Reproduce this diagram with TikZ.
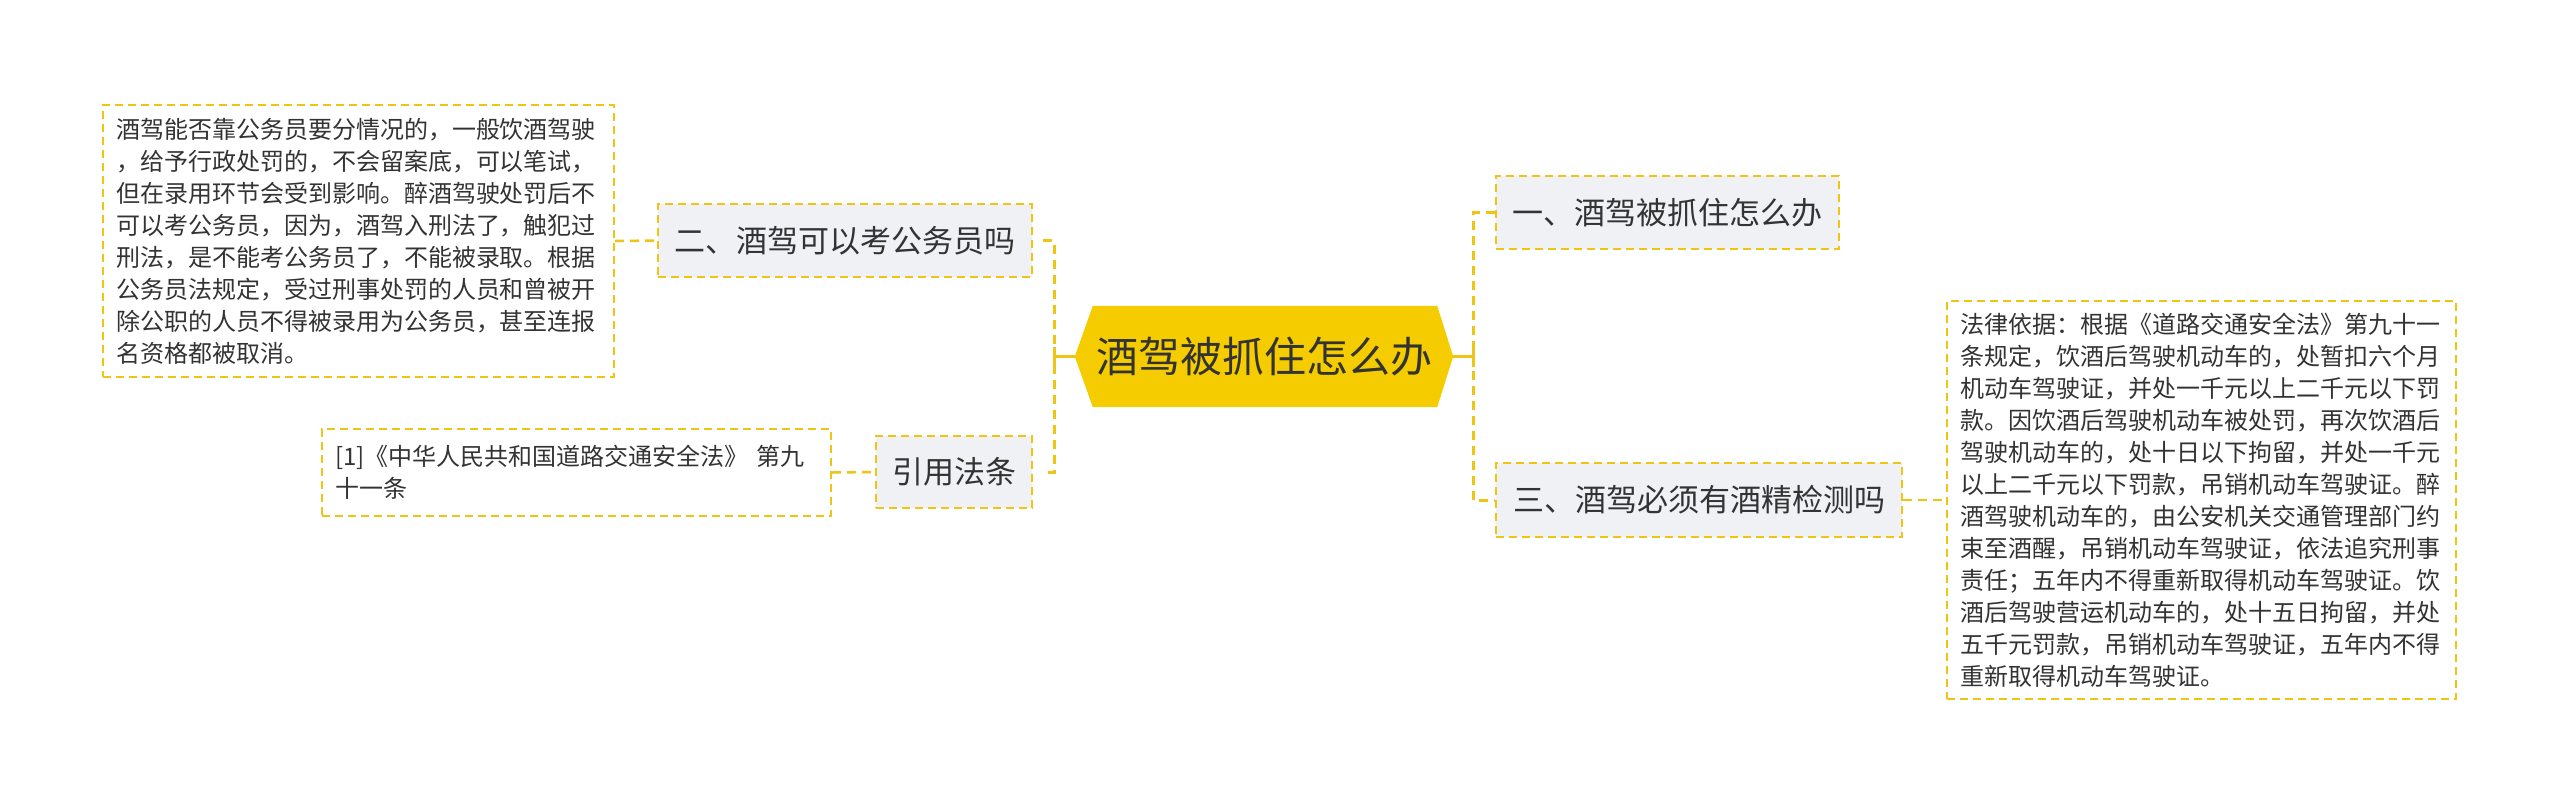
\documentclass[tikz,border=0pt]{standalone}
\usepackage{fontspec}
\setmainfont{Noto Sans CJK SC}
\usetikzlibrary{calc}
\definecolor{lineY}{RGB}{240,196,20}
\definecolor{hexY}{RGB}{245,204,0}
\definecolor{boxG}{RGB}{239,241,244}
\definecolor{txt}{RGB}{51,51,51}
\pgfdeclarelayer{bg}
\pgfsetlayers{bg,main}
\begin{document}
\begin{tikzpicture}[x=1pt,y=-1pt,
  hexnode/.style={inner sep=0pt, minimum width=378pt, minimum height=101pt, text=txt, font=\fontsize{42}{50}\selectfont},
  topic/.style={draw=lineY, line width=2pt, dash pattern=on 8pt off 5pt, fill=boxG, text=txt, font=\fontsize{31}{36}\selectfont, inner sep=0pt, minimum height=73pt},
  note/.style={draw=lineY, line width=2pt, dash pattern=on 8pt off 5pt, fill=white, text=txt, font=\fontsize{24}{32}\selectfont, align=left, inner xsep=13pt, inner ysep=0pt},
  conn/.style={draw=lineY, line width=3pt, dash pattern=on 9pt off 6pt},
  conn2/.style={draw=lineY, line width=2.5pt, dash pattern=on 9pt off 6pt},
  stub/.style={draw=lineY, line width=3pt}
]
\useasboundingbox (0,0) rectangle (2560,804);

% central
\node[hexnode] (c) at (1264,356.5) {酒驾被抓住怎么办};
\begin{pgfonlayer}{bg}
\fill[white] (0,0) rectangle (2560,804);
\fill[hexY] (c.west) -- ([xshift=18pt]c.north west) -- ([xshift=-16pt]c.north east) -- (c.east) -- ([xshift=-16pt]c.south east) -- ([xshift=18pt]c.south west) -- cycle;
\end{pgfonlayer}

% topics
\node[topic, minimum width=343pt] (n1) at (1667.5,212.5) {一、酒驾被抓住怎么办};
\node[topic, minimum width=406pt, minimum height=74pt] (n3) at (1699,500) {三、酒驾必须有酒精检测吗};
\node[topic, minimum width=374pt] (n2) at (845,240.5) {二、酒驾可以考公务员吗};
\node[topic, minimum width=156pt, minimum height=72pt] (ref) at (954,472) {引用法条};

% notes
\node[note, text width=485pt, minimum height=272pt] (t2) at (358.5,241) {酒驾能否靠公务员要分情况的，一般饮酒驾驶\\，给予行政处罚的，不会留案底，可以笔试，\\但在录用环节会受到影响。醉酒驾驶处罚后不\\可以考公务员，因为，酒驾入刑法了，触犯过\\刑法，是不能考公务员了，不能被录取。根据\\公务员法规定，受过刑事处罚的人员和曾被开\\除公职的人员不得被录用为公务员，甚至连报\\名资格都被取消。};
\node[note, text width=483pt, minimum height=398pt] (t3) at (2201.5,500) {法律依据：根据《道路交通安全法》第九十一\\条规定，饮酒后驾驶机动车的，处暂扣六个月\\机动车驾驶证，并处一千元以上二千元以下罚\\款。因饮酒后驾驶机动车被处罚，再次饮酒后\\驾驶机动车的，处十日以下拘留，并处一千元\\以上二千元以下罚款，吊销机动车驾驶证。醉\\酒驾驶机动车的，由公安机关交通管理部门约\\束至酒醒，吊销机动车驾驶证，依法追究刑事\\责任；五年内不得重新取得机动车驾驶证。饮\\酒后驾驶营运机动车的，处十五日拘留，并处\\五千元罚款，吊销机动车驾驶证，五年内不得\\重新取得机动车驾驶证。};
\node[note, text width=483pt, minimum height=87pt] (tc) at (576.5,472.5) {[1]《中华人民共和国道路交通安全法》 第九\\十一条};

% connectors
\coordinate (lj) at (1054,356.5);
\coordinate (rj) at (1473,356.5);
\draw[stub] (c.west) -- (lj);
\draw[stub] ([yshift=-10pt]lj) -- ([yshift=10pt]lj);
\draw[conn] ([xshift=10pt]n2.east) -| (lj) |- ([xshift=10pt]ref.east);
\draw[stub] (c.east) -- (rj);
\draw[stub] ([yshift=-10pt]rj) -- ([yshift=10pt]rj);
\draw[conn] (n1.west) -| (rj) |- (n3.west);
\draw[conn2] (t2.east) -- (n2.west);
\draw[conn2] (tc.east) -- (ref.west);
\draw[conn2] (n3.east) -- (t3.west);
\end{tikzpicture}
\end{document}
